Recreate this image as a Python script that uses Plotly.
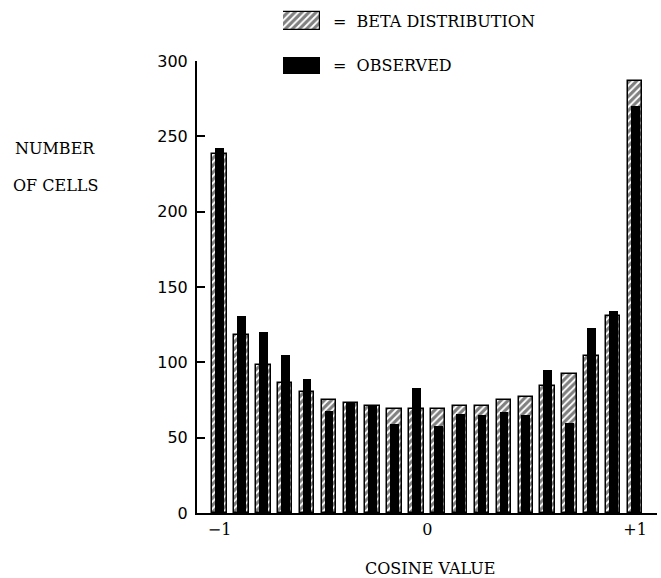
import plotly.graph_objects as go

# ---- data ----
bins = list(range(1, 21))  # 20 cosine bins from -1 to +1
beta = [238, 118, 98, 86, 80, 75, 73, 71, 69, 69,
        69, 71, 71, 75, 77, 84, 92, 104, 131, 287]
observed = [242, 131, 120, 105, 89, 68, 74, 71, 59, 83,
            58, 66, 65, 67, 65, 95, 60, 123, 134, 270]
x_tickvals = [1, 10.5, 20]
x_ticktext = ["\u22121", "0", "+1"]
y_ticks = [0, 50, 100, 150, 200, 250, 300]

W, H = 661, 578
ML, MR, MT, MB = 197, 4, 5, 65
PW, PH = W - ML - MR, H - MT - MB


def px_x(p):
    return (p - ML) / PW


def px_y(p):
    return (H - MB - p) / PH


SERIF = "DejaVu Serif"
SANS = "DejaVu Sans"
HATCH = dict(shape="/", fgcolor="black", bgcolor="white", size=5, solidity=0.62)

fig = go.Figure()

fig.add_trace(go.Bar(
    x=bins, y=beta, width=0.66, name="BETA DISTRIBUTION",
    marker=dict(color="white", line=dict(color="black", width=1.5),
                pattern=HATCH),
    showlegend=False, xaxis="x", yaxis="y"))
fig.add_trace(go.Bar(
    x=bins, y=observed, width=0.40, name="OBSERVED",
    marker=dict(color="black", line=dict(width=0)),
    showlegend=False, xaxis="x", yaxis="y"))

# legend swatches on a hidden helper axis
fig.add_trace(go.Bar(
    x=[1], y=[1], orientation="h", width=0.40,
    marker=dict(color="white", line=dict(color="black", width=1.2),
                pattern=HATCH),
    showlegend=False, xaxis="x2", yaxis="y2", hoverinfo="skip"))
fig.add_trace(go.Bar(
    x=[1], y=[0], orientation="h", width=0.38,
    marker=dict(color="black", line=dict(width=0)),
    showlegend=False, xaxis="x2", yaxis="y2", hoverinfo="skip"))

fig.update_layout(
    width=W, height=H,
    margin=dict(l=ML, r=MR, t=MT, b=MB, autoexpand=False),
    paper_bgcolor="white", plot_bgcolor="white",
    barmode="overlay", bargap=0,
    xaxis=dict(range=[-0.03, 21.0], domain=[0, 1], automargin=False,
               tickvals=x_tickvals, ticktext=x_ticktext,
               showgrid=False, zeroline=False, showline=True,
               linecolor="black", linewidth=2, ticks="",
               ticklabelstandoff=1,
               tickfont=dict(family=SERIF, size=16, color="black")),
    yaxis=dict(range=[0, 300], domain=[0, px_y(61)], automargin=False,
               tickvals=y_ticks, showgrid=False, zeroline=False,
               showline=True, linecolor="black", linewidth=2,
               ticks="inside", ticklen=8, tickwidth=1.5, tickcolor="black",
               ticklabelstandoff=4,
               tickfont=dict(family=SANS, size=16, color="black")),
    xaxis2=dict(domain=[px_x(283), px_x(320)], range=[0, 1], anchor="y2",
                visible=False, fixedrange=True, automargin=False),
    yaxis2=dict(domain=[px_y(78), px_y(10)], range=[-0.281, 1.247],
                anchor="x2", visible=False, fixedrange=True, automargin=False),
)

ann_font = dict(family=SERIF, size=16, color="black")
NB = "\u00a0"
annotations = [
    dict(text="=" + NB + NB + "BETA DISTRIBUTION", x=px_x(331), y=px_y(21),
         xanchor="left", yanchor="middle"),
    dict(text="=" + NB + NB + "OBSERVED", x=px_x(331), y=px_y(65.5),
         xanchor="left", yanchor="middle"),
    dict(text="NUMBER", x=px_x(55), y=px_y(148),
         xanchor="center", yanchor="middle"),
    dict(text="OF CELLS", x=px_x(55), y=px_y(185),
         xanchor="center", yanchor="middle"),
    dict(text="COSINE VALUE", x=px_x(430), y=px_y(568),
         xanchor="center", yanchor="middle"),
]
for a in annotations:
    fig.add_annotation(xref="paper", yref="paper", showarrow=False,
                       font=ann_font, **a)

fig.write_html(
    "out.html",
    config={"displayModeBar": False},
    post_script="document.body.style.margin='0px';"
                "document.body.style.overflow='hidden';",
)
